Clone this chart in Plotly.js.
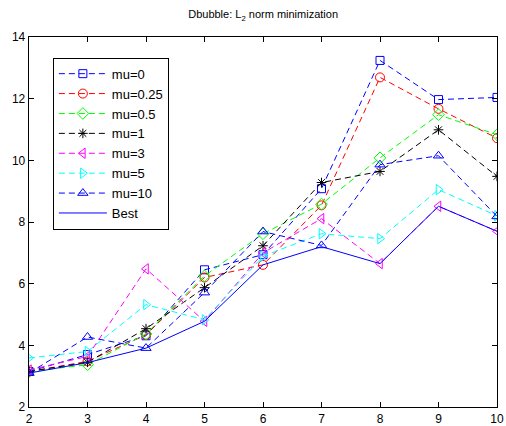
<!DOCTYPE html>
<html><head><meta charset="utf-8">
<script src="https://cdn.plot.ly/plotly-3.0.1.min.js"></script>
<style>html,body{margin:0;padding:0;background:#fff}#chart{width:506px;height:426px}</style>
</head><body><div id="chart"></div>
<script>
const xVals = [2, 3, 4, 5, 6, 7, 8, 9, 10];
const mu0   = [3.15, 3.70, 4.31, 6.45, 6.94, 9.08, 13.24, 11.97, 12.04];
const mu025 = [3.15, 3.48, 4.34, 6.20, 6.61, 8.54, 12.69, 11.67, 10.72];
const mu05  = [3.15, 3.37, 4.37, 6.25, 7.62, 8.58, 10.08, 11.48, 10.83];
const mu1   = [3.15, 3.45, 4.54, 5.87, 7.23, 9.28, 9.64, 10.99, 9.48];
const mu3   = [3.20, 3.64, 6.48, 4.78, 7.00, 8.11, 6.65, 8.51, 7.70];
const mu5   = [3.59, 3.80, 5.32, 4.83, 6.89, 7.62, 7.46, 9.05, 8.20];
const mu10  = [3.10, 4.27, 3.91, 5.71, 7.69, 7.24, 9.86, 10.15, 8.18];
const best  = [3.10, 3.44, 3.91, 4.78, 6.61, 7.20, 6.65, 8.51, 7.70];
const names = ['mu=0', 'mu=0.25', 'mu=0.5', 'mu=1', 'mu=3', 'mu=5', 'mu=10', 'Best'];

const series = [mu0, mu025, mu05, mu1, mu3, mu5, mu10];
const colors = ['#0000ff', '#ff0000', '#00ff00', '#000000', '#ff00ff', '#00ffff', '#0000ff'];
const symbols = ['square-open', 'circle-open', 'diamond-open', 'asterisk-open', 'triangle-left-open', 'triangle-right-open', 'triangle-up-open'];
const sizes = [8, 9, 9, 8, 9, 9, 9];

const traces = series.map((ys, i) => ({
  x: xVals, y: ys, name: names[i], type: 'scatter', mode: 'lines+markers',
  line: {color: colors[i], width: 1, dash: '6px,4px'},
  marker: {symbol: symbols[i], color: colors[i], size: sizes[i], line: {color: colors[i], width: 1}}
}));
traces.push({x: xVals, y: best, name: names[7], type: 'scatter', mode: 'lines',
  line: {color: '#0000ff', width: 1}});

const layout = {
  width: 506, height: 426,
  margin: {l: 29, r: 9, t: 37, b: 19},
  paper_bgcolor: '#fff', plot_bgcolor: '#fff',
  font: {family: 'Liberation Sans, Arial, sans-serif', size: 12, color: '#000'},
  title: {text: 'Dbubble: L<sub>2</sub> norm minimization', font: {size: 11}, x: 0.52, xanchor: 'center', y: 0.975, yanchor: 'top'},
  xaxis: {range: [2, 10], tickvals: [2,3,4,5,6,7,8,9,10], ticks: 'inside', ticklen: 5, tickcolor: '#000',
    showline: true, linecolor: '#000', linewidth: 1.3, mirror: 'ticks', showgrid: false, zeroline: false, tickfont: {size: 12}},
  yaxis: {range: [2, 14], tickvals: [2,4,6,8,10,12,14], ticks: 'inside', ticklen: 5, tickcolor: '#000',
    showline: true, linecolor: '#000', linewidth: 1.3, mirror: 'ticks', showgrid: false, zeroline: false, tickfont: {size: 12}},
  showlegend: true,
  legend: {x: 0.051, y: 0.944, xanchor: 'left', yanchor: 'top', bgcolor: '#fff', bordercolor: '#000', borderwidth: 1,
    font: {size: 13}, tracegroupgap: 0, itemwidth: 48}
};
Plotly.newPlot('chart', traces, layout, {displayModeBar: false, staticPlot: true});
</script></body></html>
